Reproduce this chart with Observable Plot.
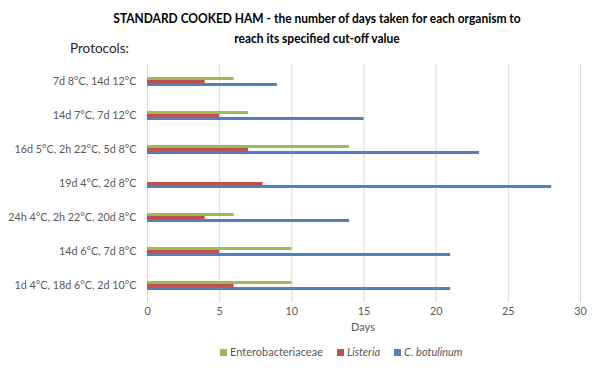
<!DOCTYPE html>
<html>
<head>
<meta charset="utf-8">
<script src="https://cdn.jsdelivr.net/npm/d3@7"></script>
<script src="https://cdn.jsdelivr.net/npm/@observablehq/plot@0.6"></script>
<style>
  body { margin: 0; background: #fff; }
  #wrap { position: relative; width: 592px; height: 375px; font-family: Lato, "Open Sans", sans-serif; color: #595959; }
  #wrap svg { position: absolute; left: 0; top: 0; }
  .t { position: absolute; white-space: nowrap; }
  #title { left: 8px; width: 618px; top: 8px; text-align: center; font-weight: bold; font-size: 14px; line-height: 20px; color: #000; transform: scaleX(0.855); transform-origin: 309px 0; }
  #proto { left: 70px; top: 40px; font-size: 13.5px; color: #262626; }
  #days { left: 0; width: 726px; top: 320px; text-align: center; font-size: 11px; }
  #legend { left: 220px; top: 345px; font-size: 11px; display: flex; gap: 14px; }
  #legend span.sw { display: inline-block; width: 7px; height: 7px; margin-right: 3px; vertical-align: 0px; }
</style>
</head>
<body>
<div id="wrap">
  <div class="t" id="title">STANDARD COOKED HAM - the number of days taken for each organism to<br>reach its specified cut-off value</div>
  <div class="t" id="proto">Protocols:</div>
  <div class="t" id="days">Days</div>
  <div class="t" id="legend"></div>
</div>
<script>
const protocols = [
  "7d 8°C, 14d 12°C",
  "14d 7°C, 7d 12°C",
  "16d 5°C, 2h 22°C, 5d 8°C",
  "19d 4°C, 2d 8°C",
  "24h 4°C, 2h 22°C, 20d 8°C",
  "14d 6°C, 7d 8°C",
  "1d 4°C, 18d 6°C, 2d 10°C"
];
const series = ["Enterobacteriaceae", "Listeria", "C. botulinum"];
const enterobacteriaceae = [6, 7, 14, 0, 6, 10, 10];
const listeria = [4, 5, 7, 8, 4, 5, 6];
const botulinum = [9, 15, 23, 28, 14, 21, 21];
const xTicks = [0, 5, 10, 15, 20, 25, 30];
const colors = ["#9BBB59", "#C0504D", "#4F81BD"];

const seriesValues = [enterobacteriaceae, listeria, botulinum];
const data = [];
protocols.forEach((p, i) => {
  series.forEach((s, j) => data.push({protocol: p, series: s, value: seriesValues[j][i]}));
});

const chart = Plot.plot({
  width: 592,
  height: 375,
  marginLeft: 147,
  marginRight: 12,
  marginTop: 62,
  marginBottom: 72,
  style: {fontFamily: "Lato, 'Open Sans', sans-serif", fontSize: "10.8px", color: "#595959", background: "transparent"},
  x: {domain: [0, 30], ticks: xTicks, tickSize: 0, tickPadding: 5, label: null},
  fy: {domain: protocols, padding: 0, label: null, axis: "left", tickSize: 0, tickPadding: 11},
  y: {domain: series, paddingInner: 0, paddingOuter: 3.3, axis: null},
  color: {domain: series, range: colors},
  marks: [
    Plot.ruleX(xTicks, {stroke: "#D9D9D9", strokeWidth: 1}),
    Plot.barX(data, {x: "value", y: "series", fy: "protocol", fill: "series"})
  ]
});
const wrap = document.getElementById("wrap");
wrap.insertBefore(chart, wrap.firstChild);

const legend = document.getElementById("legend");
series.forEach((s, j) => {
  const item = document.createElement("span");
  const sw = document.createElement("span");
  sw.className = "sw";
  sw.style.background = colors[j];
  item.appendChild(sw);
  const lab = document.createElement("span");
  lab.textContent = s;
  if (j > 0) lab.style.fontStyle = "italic";
  item.appendChild(lab);
  legend.appendChild(item);
});
</script>
</body>
</html>
